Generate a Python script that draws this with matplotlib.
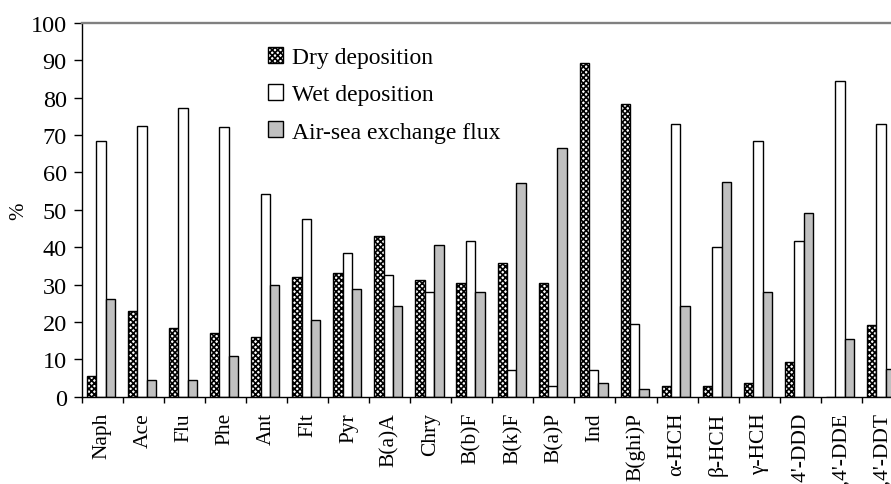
import numpy as np
import matplotlib
matplotlib.use("Agg")
import matplotlib.pyplot as plt

plt.rcParams['font.family'] = ['Liberation Serif', 'DejaVu Serif']
plt.rcParams['hatch.linewidth'] = 1.2

compounds = ['Naph', 'Ace', 'Flu', 'Phe', 'Ant', 'Flt', 'Pyr', 'B(a)A', 'Chry',
             'B(b)F', 'B(k)F', 'B(a)P', 'Ind', 'B(ghi)P', 'α-HCH', 'β-HCH',
             'γ-HCH', "4,4'-DDD", "4,4'-DDE", "4,4'-DDT"]
dry = [5.5, 23.0, 18.4, 17.1, 15.9, 32.1, 33.0, 43.0, 31.2, 30.5,
       35.9, 30.5, 89.2, 78.3, 2.9, 2.9, 3.7, 9.2, 0.0, 19.2]
wet = [68.3, 72.5, 77.2, 72.2, 54.2, 47.6, 38.4, 32.5, 27.9, 41.7,
       7.1, 2.9, 7.1, 19.5, 73.0, 40.0, 68.3, 41.7, 84.6, 73.0]
air_sea = [26.2, 4.5, 4.5, 10.9, 30.0, 20.4, 28.7, 24.2, 40.5, 27.9,
           57.1, 66.6, 3.7, 2.1, 24.2, 57.5, 28.0, 49.2, 15.4, 7.5]

fig = plt.figure(figsize=(8.91, 4.85), dpi=100)
# plot area runs past the right edge, as in the original figure
ax = fig.add_axes([0.0917, 0.18, 0.9216, 0.7705])

x = np.arange(len(compounds))
w = 0.228
shift = -0.03
ax.bar(x - w + shift, dry, w, facecolor='white', edgecolor='black',
       hatch='xxxxxx', linewidth=1.0, label='Dry deposition')
ax.bar(x + shift, wet, w, facecolor='white', edgecolor='black',
       linewidth=1.0, label='Wet deposition')
ax.bar(x + w + shift, air_sea, w, facecolor='#c0c0c0', edgecolor='black',
       linewidth=1.0, label='Air-sea exchange flux')

ax.set_xlim(-0.5, len(compounds) - 0.5)
ax.set_ylim(0, 100)
ax.set_yticks(np.arange(0, 101, 10))
ax.set_xticks(x)
ax.set_xticklabels(compounds, rotation=90, fontsize=15.5)
ax.set_xticks(np.arange(-0.5, len(compounds), 1), minor=True)
ax.tick_params(axis='x', which='major', length=0, pad=11)
ax.tick_params(axis='x', which='minor', length=4.3, width=1.0, direction='out')
ax.tick_params(axis='y', length=5.8, width=1.0, direction='out', labelsize=17.5, pad=5)
ax.set_ylabel('%', fontsize=15, labelpad=2)

for s in ['left', 'bottom']:
    ax.spines[s].set_linewidth(1.0)
ax.spines['top'].set_color('#808080')
ax.spines['top'].set_linewidth(1.7)
ax.spines['right'].set_visible(False)

ax.legend(loc='upper left', bbox_to_anchor=(268 / 891, 1 - 48 / 485),
          bbox_transform=fig.transFigure, frameon=False, fontsize=17,
          handlelength=0.65, handleheight=0.65, handletextpad=0.35,
          labelspacing=0.68, borderpad=0, borderaxespad=0)

fig.savefig('out.png', dpi=100)
